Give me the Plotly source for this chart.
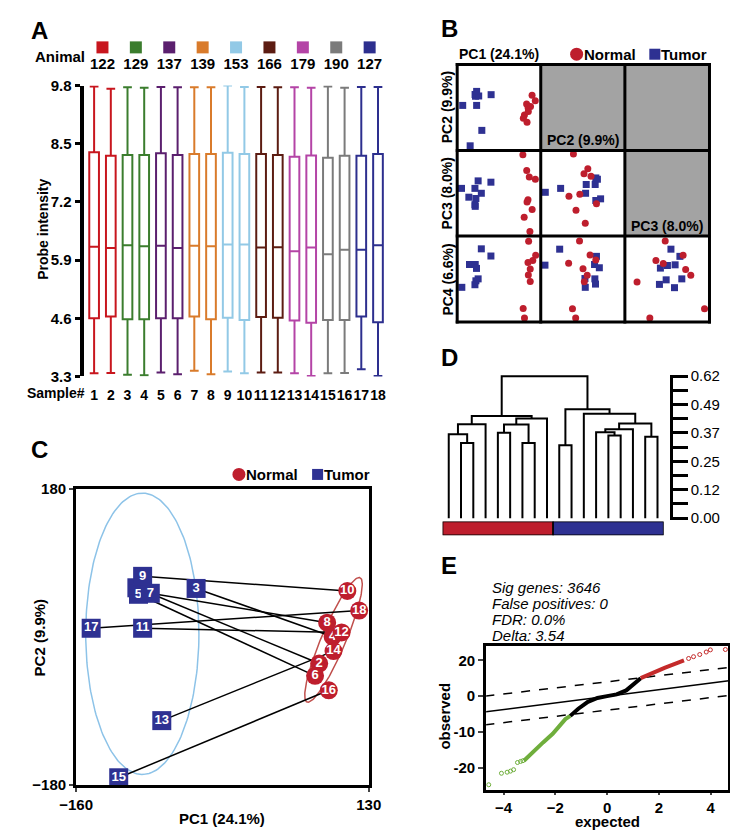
import numpy as np
import plotly.graph_objects as go

W, H = 738, 830
FONT = "Liberation Sans, Arial, sans-serif"
RED = "#be1e2d"
NAVY = "#2e3192"

# ---------------- Panel A: probe intensity per sample ----------------
animals = ["122", "129", "137", "139", "153", "166", "179", "190", "127"]
animal_colors = ["#c8161e", "#3b7d2e", "#5b1f6e", "#d97b2b", "#92c9e6",
                 "#5c1c12", "#b444a6", "#7b7b7b", "#2d2f8e"]
samples = list(range(1, 19))
box_max = [9.78, 9.73, 9.76, 9.75, 9.77, 9.76, 9.76, 9.76, 9.80,
           9.77, 9.77, 9.76, 9.76, 9.75, 9.78, 9.75, 9.77, 9.77]
box_q3 = [8.31, 8.23, 8.25, 8.25, 8.29, 8.25, 8.27, 8.27, 8.30,
          8.27, 8.27, 8.25, 8.21, 8.24, 8.19, 8.23, 8.23, 8.27]
box_med = [6.20, 6.17, 6.23, 6.21, 6.22, 6.17, 6.22, 6.21, 6.25,
           6.25, 6.18, 6.19, 6.10, 6.18, 6.03, 6.13, 6.13, 6.23]
box_q1 = [4.60, 4.64, 4.58, 4.58, 4.60, 4.60, 4.64, 4.58, 4.61,
          4.56, 4.63, 4.61, 4.55, 4.50, 4.56, 4.56, 4.64, 4.51]
box_min = [3.37, 3.38, 3.34, 3.33, 3.39, 3.35, 3.43, 3.35, 3.41,
           3.37, 3.39, 3.39, 3.37, 3.31, 3.37, 3.38, 3.46, 3.31]
a_yticks = [3.3, 4.6, 5.9, 7.2, 8.5, 9.8]

# ---------------- Panel C (and B top-left): PC1 / PC2 scores ----------------
tumor_ids = [1, 3, 5, 7, 9, 11, 13, 15, 17]
tumor_pc1 = [-99.8, -41.1, -98.2, -86.5, -94.1, -94.1, -75.1, -117.8, -145.1]
tumor_pc2 = [59.7, 58.9, 51.8, 53.0, 73.6, 10.5, -101.8, -171.3, 10.5]
normal_ids = [2, 4, 6, 8, 10, 12, 14, 16, 18]
normal_pc1 = [80.9, 94.2, 76.8, 88.8, 108.8, 103.1, 95.1, 90.4, 120.5]
normal_pc2 = [-32.4, 0.2, -47.4, 17.3, 55.8, 5.4, -17.3, -64.9, 32.0]

# ellipses (center, semi-axis vectors) in PC units
tumor_ell_center = (-94.4, 3.8)
tumor_ell_axes = ((56.1, 0.0), (0.0, 171.0))
normal_ell_center = (95.1, -3.6)
normal_ell_axes = ((26.3, 75.6), (11.0, -6.0))

# ---------------- Panel B: other PC pairs ----------------
pc1_pc3_normal_x = [75.2, 89.2, 98.6, 120.8, 93.9, 90.4, 109.1, 79.9, 100.9]
pc1_pc3_normal_y = [147.5, 87.2, 62.1, 53.3, -25.7, -34.5, -63.4, -92.3, -147.5]
pc1_pc3_tumor_x = [-88.6, -41.8, -149.5, -100.3, -76.9, -122.6, -96.8, -100.3, -99.2]
pc1_pc3_tumor_y = [47.0, 42.0, 18.2, 18.2, -0.6, -15.7, -20.7, -44.6, -50.8]

pc2_pc3_normal_x = [-43.0, 23.6, 5.9, 38.4, -63.7, -13.4, -31.1, 11.8, 63.6]
pc2_pc3_normal_y = [150.0, 93.5, 74.7, 64.6, -11.9, -4.4, -65.9, -116.1, -40.8]
pc2_pc3_tumor_x = [-173.2, -102.2, 16.2, 60.6, 68.0, 57.7, 13.3, 60.6, 82.8]
pc2_pc3_tumor_y = [3.1, 18.2, 33.2, 58.3, 53.3, 33.2, -0.6, -28.3, -22.0]

pc1_pc4_normal_x = [96.2, 122.0, 111.4, 93.9, 102.1, 95.1, 102.1, 76.3, 81.0]
pc1_pc4_normal_y = [143.8, 90.3, 70.4, 62.9, 38.0, 15.6, -9.3, -112.7, -148.8]
pc1_pc4_tumor_x = [-76.9, -41.8, -120.2, -99.2, -94.5, -88.6, -96.8, -100.3, -148.3]
pc1_pc4_tumor_y = [115.2, 87.8, 55.4, 55.4, 40.5, 0.6, -6.8, -21.8, -31.7]

pc2_pc4_normal_x = [-14.8, 34.0, 60.6, -65.2, 1.4, 20.7, 7.4, -47.4, -32.6]
pc2_pc4_normal_y = [145.1, 91.5, 72.9, 60.4, 39.2, 14.3, -10.6, -113.9, -148.8]
pc2_pc4_tumor_x = [-106.6, -174.7, 63.6, 54.7, 76.9, 10.3, 56.2, 59.2, 11.8]
pc2_pc4_tumor_y = [113.9, 52.9, 86.5, 55.4, 43.0, 1.9, 0.6, -19.3, -31.7]

pc3_pc4_normal_x = [-6.9, 63.9, -43.6, -14.5, 74.0, 94.3, -118.3, 148.7, -67.7]
pc3_pc4_normal_y = [145.1, 90.3, 70.4, 59.2, 36.7, 14.3, -11.8, -113.9, -148.8]
pc3_pc4_tumor_x = [15.8, 51.3, -25.9, 1.9, 32.3, -3.1, 58.8, -29.7, 29.8]
pc3_pc4_tumor_y = [113.9, 86.5, 41.7, 51.7, 54.2, -3.1, 0.6, -20.5, -33.0]

# ---------------- Panel D: dendrogram ----------------
leaf_groups = ["Normal"] * 9 + ["Tumor"] * 9
# merges: (node a, node b, height); leaves are 0..17, new nodes 18..
merges = [(1, 2, 0.328), (0, 18, 0.366), (19, 3, 0.410), (4, 5, 0.373),
          (6, 7, 0.328), (21, 22, 0.409), (23, 8, 0.435), (20, 24, 0.446),
          (9, 10, 0.318), (13, 14, 0.361), (12, 27, 0.375), (28, 15, 0.388),
          (16, 17, 0.356), (29, 30, 0.413), (11, 31, 0.456), (26, 32, 0.475),
          (25, 33, 0.62)]
d_ticks = [0.0, 0.062, 0.124, 0.186, 0.248, 0.31, 0.372, 0.434, 0.496, 0.558, 0.62]
d_ticktext = ["0.00", "", "0.12", "", "0.25", "", "0.37", "", "0.49", "", "0.62"]

# ---------------- Panel E: SAM plot ----------------
green_tail_x = [-4.57, -4.08, -3.86, -3.73, -3.61, -3.46, -3.34, -3.25]
green_tail_y = [-24.7, -21.5, -21.2, -20.9, -20.5, -18.5, -18.2, -18.0]
green_x = [-3.21, -2.84, -2.47, -2.10, -1.85, -1.61, -1.42]
green_y = [-18.0, -15.3, -12.9, -10.5, -8.2, -6.4, -5.5]
black_x = [-1.42, -1.11, -0.74, -0.37, 0.0, 0.37, 0.74, 1.05, 1.30]
black_y = [-5.5, -3.5, -1.6, -0.5, 0.0, 0.5, 1.6, 3.4, 5.0]
red_x = [1.30, 1.73, 2.22, 2.72, 2.97]
red_y = [5.0, 6.4, 7.9, 9.3, 10.0]
red_tail_x = [3.15, 3.34, 3.58, 3.83, 3.99, 4.57]
red_tail_y = [10.5, 11.0, 11.6, 12.3, 12.9, 13.0]
line_x = [-4.7, 4.7]
center_y = [-4.36, 4.27]
upper_y = [0.0, 8.0]
lower_y = [-8.0, 0.2]
e_stats = ["Sig genes: 3646", "False positives: 0", "FDR: 0.0%", "Delta: 3.54"]


def xdom(left, right):
    return [left / W, right / W]


def ydom(top, bottom):
    return [1 - bottom / H, 1 - top / H]


HID = dict(showgrid=False, zeroline=False, showticklabels=False, ticks="", showline=False)

fig = go.Figure()
axes = {}
shapes = []

# ---- A ----
a_xrange = [0.366, 18.52]
axes["xaxis"] = dict(domain=xdom(61, 377), range=a_xrange, anchor="y",
                     tickvals=samples, ticktext=[str(s) for s in samples], tickangle=0,
                     tickfont=dict(size=14, weight="bold"), ticks="outside", ticklen=6,
                     tickcolor="rgba(0,0,0,0)", showline=False, showgrid=False, zeroline=False)
axes["yaxis"] = dict(domain=ydom(70, 367), range=[3.3, 9.8], anchor="x",
                     tickvals=a_yticks, ticktext=[f"{v:.1f}" for v in a_yticks],
                     showline=True, linewidth=4, linecolor="black", ticks="outside",
                     ticklen=5, tickwidth=3, tickcolor="black",
                     tickfont=dict(size=15, weight="bold"), showgrid=False, zeroline=False)
axes["xaxis2"] = dict(domain=xdom(61, 377), range=a_xrange, anchor="y2", **HID)
axes["yaxis2"] = dict(domain=ydom(20, 58), range=[0, 1], anchor="x2", **HID)

for i, col in enumerate(animal_colors):
    s = slice(2 * i, 2 * i + 2)
    fig.add_trace(go.Box(x=samples[s], q1=box_q1[s], median=box_med[s], q3=box_q3[s],
                         lowerfence=box_min[s], upperfence=box_max[s], width=0.58,
                         whiskerwidth=0.9, line=dict(color=col, width=2), fillcolor="white",
                         boxpoints=False, hoverinfo="skip", xaxis="x", yaxis="y"))

pair_x = [(samples[2 * i] + samples[2 * i + 1]) / 2 for i in range(len(animals))]
fig.add_trace(go.Scatter(x=pair_x, y=[0.71] * len(animals), mode="markers",
                         marker=dict(symbol="square", size=12, color=animal_colors),
                         xaxis="x2", yaxis="y2", cliponaxis=False))
fig.add_trace(go.Scatter(x=pair_x, y=[0.24] * len(animals), mode="text", text=animals,
                         textfont=dict(size=15, weight="bold", color="black"),
                         xaxis="x2", yaxis="y2", cliponaxis=False))

# ---- B ----
col_inner = [(452, 536.3), (539, 623.7), (627, 711.3)]
row_inner = [(50, 135.3), (137.3, 222.3), (224.7, 310.3)]
col_ranges = [[-160, 136], [-188, 188], [-160, 160]]
row_ranges = [[-188, 188], [-160, 160], [-160, 160]]
b_cells = {
    (0, 0): (normal_pc1, normal_pc2, tumor_pc1, tumor_pc2),
    (1, 0): (pc1_pc3_normal_x, pc1_pc3_normal_y, pc1_pc3_tumor_x, pc1_pc3_tumor_y),
    (1, 1): (pc2_pc3_normal_x, pc2_pc3_normal_y, pc2_pc3_tumor_x, pc2_pc3_tumor_y),
    (2, 0): (pc1_pc4_normal_x, pc1_pc4_normal_y, pc1_pc4_tumor_x, pc1_pc4_tumor_y),
    (2, 1): (pc2_pc4_normal_x, pc2_pc4_normal_y, pc2_pc4_tumor_x, pc2_pc4_tumor_y),
    (2, 2): (pc3_pc4_normal_x, pc3_pc4_normal_y, pc3_pc4_tumor_x, pc3_pc4_tumor_y),
}
grid_x = [450.5, 537.6, 625.3, 713.5]
grid_y = [48.5, 136.3, 223.5, 311.5]
for r in range(3):
    for c in range(3):
        n = 3 + r * 3 + c
        axes[f"xaxis{n}"] = dict(domain=xdom(*col_inner[c]), range=col_ranges[c], anchor=f"y{n}", **HID)
        axes[f"yaxis{n}"] = dict(domain=ydom(*row_inner[r]), range=row_ranges[r], anchor=f"x{n}", **HID)
        if (r, c) in b_cells:
            nx, ny, tx, ty = b_cells[(r, c)]
            fig.add_trace(go.Scatter(x=tx, y=ty, mode="markers", cliponaxis=False,
                                     marker=dict(symbol="square", size=7, color=NAVY),
                                     xaxis=f"x{n}", yaxis=f"y{n}"))
            fig.add_trace(go.Scatter(x=nx, y=ny, mode="markers", cliponaxis=False,
                                     marker=dict(symbol="circle", size=7, color=RED),
                                     xaxis=f"x{n}", yaxis=f"y{n}"))
        else:
            shapes.append(dict(type="rect", xref="paper", yref="paper",
                               x0=grid_x[c] / W, x1=grid_x[c + 1] / W,
                               y0=1 - grid_y[r + 1] / H, y1=1 - grid_y[r] / H,
                               fillcolor="#a3a3a3", line=dict(width=0)))

for gx in grid_x:
    shapes.append(dict(type="line", xref="paper", yref="paper", x0=gx / W, x1=gx / W,
                       y0=1 - (grid_y[-1] + 1.5) / H, y1=1 - (grid_y[0] - 1.5) / H,
                       line=dict(color="black", width=3)))
for gy in grid_y:
    shapes.append(dict(type="line", xref="paper", yref="paper", x0=(grid_x[0] - 1.5) / W,
                       x1=(grid_x[-1] + 1.5) / W, y0=1 - gy / H, y1=1 - gy / H,
                       line=dict(color="black", width=3)))

# ---- C ----
axes["xaxis12"] = dict(domain=xdom(53.3, 358.3), range=[-160, 130], anchor="y12",
                       tickvals=[-160, 130], showline=True, mirror=True, linewidth=3,
                       linecolor="black", ticks="outside", ticklen=4, tickwidth=2,
                       tickfont=dict(size=15, weight="bold"), showgrid=False, zeroline=False)
axes["yaxis12"] = dict(domain=ydom(481.7, 784), range=[-180, 180], anchor="x12",
                       tickvals=[-180, 180], showline=True, mirror=True, linewidth=3,
                       linecolor="black", ticks="outside", ticklen=4, tickwidth=2,
                       tickfont=dict(size=15, weight="bold"), showgrid=False, zeroline=False)

t = np.linspace(0, 2 * np.pi, 200)
for (cx, cy), ((ax_, ay_), (bx_, by_)), col in [
        (tumor_ell_center, tumor_ell_axes, "#8dc3e8"),
        (normal_ell_center, normal_ell_axes, "#c0504d")]:
    fig.add_trace(go.Scatter(x=cx + ax_ * np.cos(t) + bx_ * np.sin(t),
                             y=cy + ay_ * np.cos(t) + by_ * np.sin(t),
                             mode="lines", line=dict(color=col, width=1.5),
                             xaxis="x12", yaxis="y12", hoverinfo="skip"))

pair_lx, pair_ly = [], []
for i in range(len(tumor_ids)):
    pair_lx += [tumor_pc1[i], normal_pc1[i], None]
    pair_ly += [tumor_pc2[i], normal_pc2[i], None]
fig.add_trace(go.Scatter(x=pair_lx, y=pair_ly, mode="lines", line=dict(color="black", width=1.5),
                         xaxis="x12", yaxis="y12", hoverinfo="skip"))

# one trace per sample so that overlapping marks hide the labels beneath them
for ids, xs, ys, sym, size, col in [(tumor_ids, tumor_pc1, tumor_pc2, "square", 19, NAVY),
                                    (normal_ids, normal_pc1, normal_pc2, "circle", 18, RED)]:
    for sid, xv, yv in zip(ids, xs, ys):
        fig.add_trace(go.Scatter(x=[xv], y=[yv], mode="markers+text", cliponaxis=False,
                                 text=[str(sid)], textposition="middle center",
                                 textfont=dict(size=13, color="white", weight="bold"),
                                 marker=dict(symbol=sym, size=size, color=col),
                                 xaxis="x12", yaxis="y12"))

# ---- D ----
leaf_pos = list(range(len(leaf_groups)))
node_x = {i: float(p) for i, p in enumerate(leaf_pos)}
node_h = {i: 0.0 for i in leaf_pos}
dx, dy = [], []
for k, (a, b, h) in enumerate(merges):
    nid = len(leaf_pos) + k
    dx += [node_x[a], node_x[a], node_x[b], node_x[b], None]
    dy += [node_h[a], h, h, node_h[b], None]
    node_x[nid] = (node_x[a] + node_x[b]) / 2
    node_h[nid] = h

d_xrange = [-0.5, len(leaf_groups) - 0.5]
axes["xaxis13"] = dict(domain=xdom(435.3, 665.7), range=d_xrange, anchor="y13", **HID)
axes["yaxis13"] = dict(domain=ydom(365.5, 514), range=[-0.01, 0.625], anchor="free",
                       position=673 / W, side="right", tickvals=d_ticks, ticktext=d_ticktext,
                       showline=True, linewidth=3, linecolor="black", ticks="outside",
                       ticklen=15, tickwidth=3, tickcolor="black",
                       tickfont=dict(size=15), showgrid=False, zeroline=False)
fig.add_trace(go.Scatter(x=dx, y=dy, mode="lines", line=dict(color="black", width=2),
                         xaxis="x13", yaxis="y13", hoverinfo="skip", cliponaxis=False))

axes["xaxis14"] = dict(domain=xdom(435.3, 665.7), range=d_xrange, anchor="y14", **HID)
axes["yaxis14"] = dict(domain=ydom(515, 529), range=[0, 1], anchor="x14", **HID)
groups = ["Normal", "Tumor"]
g_count = [leaf_groups.count(g) for g in groups]
g_start = [leaf_groups.index(g) for g in groups]
fig.add_trace(go.Bar(x=[s - 0.5 + n / 2 for s, n in zip(g_start, g_count)], y=[1, 1],
                     width=g_count, marker=dict(color=[RED, NAVY], line=dict(color="black", width=1.5)),
                     xaxis="x14", yaxis="y14", hoverinfo="skip"))

# ---- E ----
axes["xaxis15"] = dict(domain=xdom(480.7, 733.3), range=[-4.67, 4.69], anchor="y15",
                       tickvals=[-4, -2, 0, 2, 4], showline=True, mirror=True, linewidth=3,
                       linecolor="black", ticks="outside", ticklen=2, tickwidth=2,
                       tickfont=dict(size=15, weight="bold"), showgrid=False, zeroline=False)
axes["yaxis15"] = dict(domain=ydom(641.7, 789.3), range=[-26.2, 14.1], anchor="x15",
                       tickvals=[10, 0, -10, -20], ticktext=["20", "0", "-10", "-20"],
                       showline=True, mirror=True, linewidth=3, linecolor="black",
                       ticks="outside", ticklen=5, tickwidth=2,
                       tickfont=dict(size=15, weight="bold"), showgrid=False, zeroline=False)
for yy, dash in [(upper_y, "dash"), (lower_y, "dash"), (center_y, "solid")]:
    fig.add_trace(go.Scatter(x=line_x, y=yy, mode="lines", line=dict(color="black", width=1.5, dash=dash),
                             xaxis="x15", yaxis="y15", hoverinfo="skip"))
for xs, ys, col in [(green_x, green_y, "#6fae3c"), (black_x, black_y, "black"), (red_x, red_y, "#c42a2a")]:
    fig.add_trace(go.Scatter(x=xs, y=ys, mode="lines", line=dict(color=col, width=4),
                             xaxis="x15", yaxis="y15", hoverinfo="skip"))
for xs, ys, col in [(green_tail_x, green_tail_y, "#6fae3c"), (red_tail_x, red_tail_y, "#c42a2a")]:
    fig.add_trace(go.Scatter(x=xs, y=ys, mode="markers",
                             marker=dict(symbol="circle-open", size=4, color=col, line=dict(width=1)),
                             xaxis="x15", yaxis="y15", hoverinfo="skip"))

# ---- legend keys (B and C) on a page-sized helper axis ----
axes["xaxis16"] = dict(domain=[0, 1], range=[0, W], anchor="y16", **HID)
axes["yaxis16"] = dict(domain=[0, 1], range=[H, 0], anchor="x16", **HID)
legend_keys = [((575, 38), (656.5, 38)), ((223, 467), (305, 467))]
for (cxy, sxy) in legend_keys:
    fig.add_trace(go.Scatter(x=[cxy[0]], y=[cxy[1]], mode="markers",
                             marker=dict(symbol="circle", size=13, color=RED),
                             xaxis="x16", yaxis="y16", hoverinfo="skip"))
    fig.add_trace(go.Scatter(x=[sxy[0]], y=[sxy[1]], mode="markers",
                             marker=dict(symbol="square", size=11, color=NAVY),
                             xaxis="x16", yaxis="y16", hoverinfo="skip"))


# ---- text ----
def ann(text, x, y, size=15, bold=True, xanchor="center", angle=0):
    return dict(text=text, x=x / W, y=1 - y / H, xref="paper", yref="paper", showarrow=False,
                xanchor=xanchor, yanchor="middle", textangle=angle,
                font=dict(family=FONT, size=size, color="black", weight="bold" if bold else "normal"))


annotations = [
    ann("A", 4, 14, 24, xanchor="left"),
    ann("B", 432, 12, 24, xanchor="left"),
    ann("C", 4, 442, 24, xanchor="left"),
    ann("D", 432, 348, 24, xanchor="left"),
    ann("E", 432, 560, 24, xanchor="left"),
    ann("Animal", 8, 40, 15, xanchor="left"),
    ann("Sample#", 0, 384, 14, xanchor="left"),
    ann("Probe intensity", 18, 217, 14, angle=-90),
    ann("PC1 (24.1%)", 494, 38, 14),
    ann("Normal", 581, 38, 15, xanchor="left"),
    ann("Tumor", 661, 38, 15, xanchor="left"),
    ann("PC2 (9.9%)", 440, 92, 14, angle=-90),
    ann("PC3 (8.0%)", 440, 180, 14, angle=-90),
    ann("PC4 (6.6%)", 440, 268, 14, angle=-90),
    ann("PC2 (9.9%)", 582, 126, 14),
    ann("PC3 (8.0%)", 669, 213, 14),
    ann("Normal", 228, 467, 15, xanchor="left"),
    ann("Tumor", 310, 467, 15, xanchor="left"),
    ann("PC1 (24.1%)", 205, 818, 15),
    ann("PC2 (9.9%)", 15, 633, 15, angle=-90),
    ann("observed", 437, 714, 15, angle=-90),
    ann("expected", 607, 821, 15),
]
for k, s in enumerate(e_stats):
    annotations.append(ann(f"<i>{s}</i>", 485, 582 + k * 16.4, 15, bold=False, xanchor="left"))

fig.update_layout(width=W, height=H, margin=dict(l=0, r=0, t=0, b=0),
                  paper_bgcolor="white", plot_bgcolor="rgba(0,0,0,0)",
                  showlegend=False, boxmode="overlay",
                  font=dict(family=FONT, color="black"),
                  shapes=shapes, annotations=annotations, **axes)

fig.write_html("out.html")
